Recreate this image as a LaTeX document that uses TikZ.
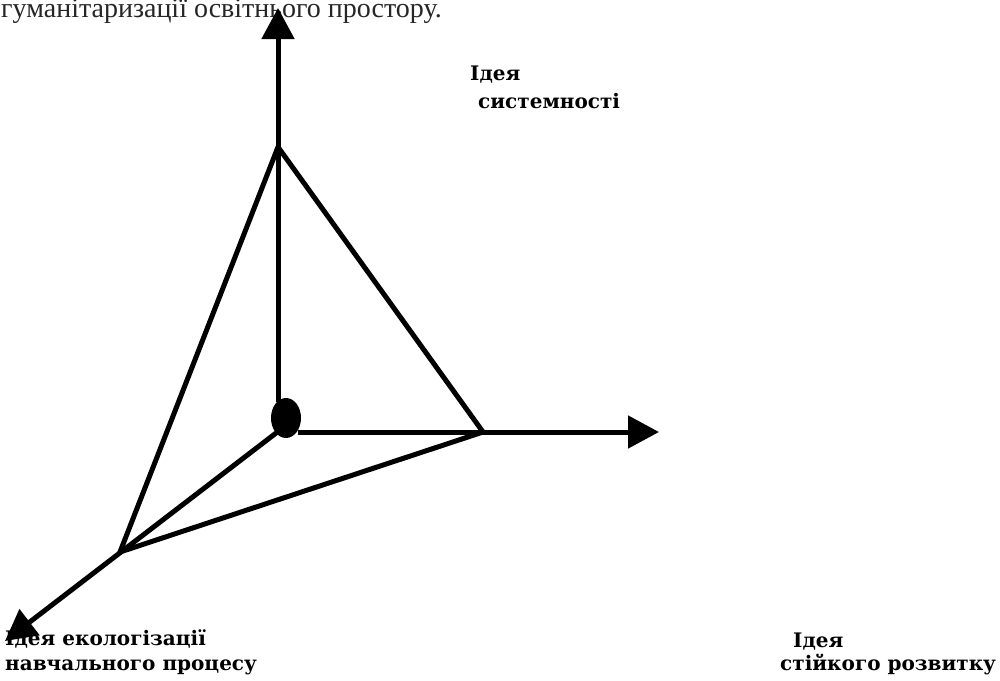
\documentclass[tikz,border=0pt]{standalone}
\usepackage{fontspec}
\setmainfont{Liberation Serif}
\newfontfamily\lblfont{DejaVu Serif}
\usetikzlibrary{arrows.meta}
\begin{document}
\begin{tikzpicture}[x=1pt,y=-1pt,
  axisline/.style={line width=5pt,-{Triangle[length=31pt,width=32pt]}},
  edge/.style={line width=5pt,line cap=round},
  lbl/.style={font=\lblfont\bfseries\fontsize{20}{24}\selectfont,inner sep=0pt,anchor=base west},
  toptext/.style={font=\fontsize{28}{32}\selectfont,text=black!85,inner sep=0pt,anchor=base west}]
\useasboundingbox (0,0) rectangle (1000,680);
% texts
\node[toptext] (t0) at (1,17) {гуманітаризації освітнього простору.};
\node[lbl] (s1) at (470,80) {Ідея};
\node[lbl] (s2) at (478,108) {системності};
\node[lbl] (e1) at (5,645) {Ідея екологізації};
\node[lbl] (e2) at (5,670) {навчального процесу};
\node[lbl] (r1) at (793,647) {Ідея};
\node[lbl] (r2) at (780,670) {стійкого розвитку};
% points
\coordinate (O) at (286,418);
\coordinate (Otop) at (278,402);
\coordinate (Oright) at (298,432);
\coordinate (Odiag) at (280,430);
\coordinate (A) at (278,147);
\coordinate (R) at (483,432);
\coordinate (L) at (120,552);
\coordinate (Ttop) at (278,8);
\coordinate (Tright) at (659,432);
\coordinate (Tdiag) at (5,641);
% axes
\draw[axisline] (Otop) -- (Ttop);
\draw[axisline] (Oright) -- (Tright);
\draw[axisline] (Odiag) -- (Tdiag);
% triangle
\draw[edge] (A) -- (R) -- (L) -- cycle;
% centre dot
\fill (O) ellipse (15 and 20);
\end{tikzpicture}
\end{document}
